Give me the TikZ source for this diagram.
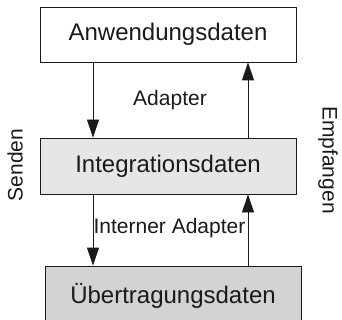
\documentclass[tikz,border=0pt]{standalone}
\usepackage{fontspec}
\setmainfont{Liberation Sans}
\usetikzlibrary{arrows.meta}
\definecolor{midfill}{HTML}{E6E6E6}
\definecolor{botfill}{HTML}{D3D3D3}
\definecolor{ink}{HTML}{1A1A1A}
\begin{document}
\begin{tikzpicture}[x=1pt,y=-1pt,
  layerbox/.style={draw=ink,line width=0.9pt,minimum width=256pt,inner sep=0pt,text=ink,font=\fontsize{24}{28}\selectfont},
  lbl/.style={inner sep=0pt,text=ink,font=\fontsize{21}{25}\selectfont},
  arr/.style={draw=ink,line width=0.9pt,-{Triangle[width=12pt,length=18pt]}}]
\useasboundingbox (0,0) rectangle (342,320);
\node[layerbox,minimum height=55pt] (top) at (168,34.5) {Anwendungsdaten};
\node[layerbox,minimum height=56pt,fill=midfill] (mid) at (168,166) {Integrationsdaten};
\node[layerbox,minimum height=60pt,fill=botfill] (bot) at (173,296) {\raisebox{3pt}{Übertragungsdaten}};
\node[lbl] (ad) at (170,100) {Adapter};
\node[lbl] (iad) at (169.5,228) {Interner Adapter};
\node[lbl,rotate=90] (send) at (15,165) {Senden};
\node[lbl,rotate=-90] (empf) at (328,160) {Empfangen};
\draw[arr] (top.south -| 93,0) -- (mid.north -| 93,0);
\draw[arr] (mid.north -| 248,0) -- (top.south -| 248,0);
\draw[arr] (mid.south -| 93,0) -- (bot.north -| 93,0);
\draw[arr] (bot.north -| 248,0) -- (mid.south -| 248,0);
\end{tikzpicture}
\end{document}
